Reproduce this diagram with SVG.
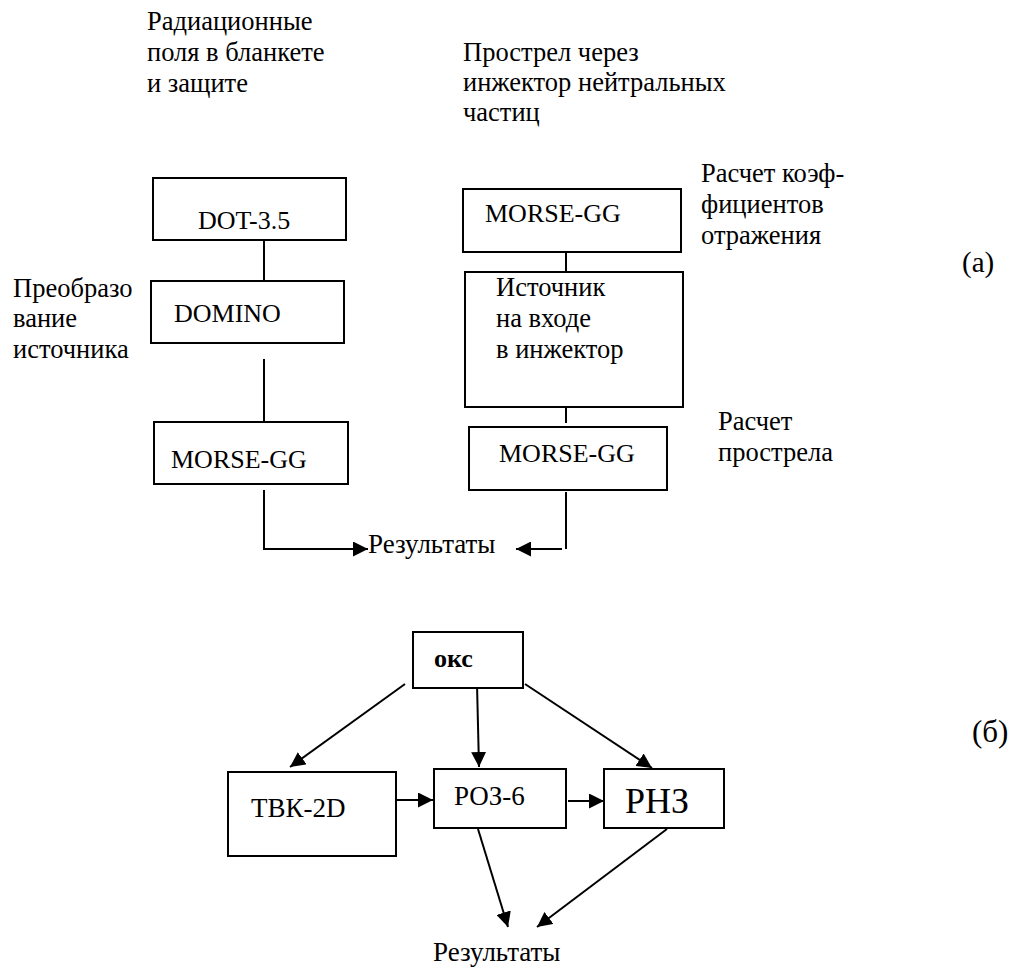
<svg xmlns="http://www.w3.org/2000/svg" width="1019" height="967" viewBox="0 0 1019 967">
<defs>
<style>
rect{fill:#fff;stroke:#000;stroke-width:2}
.c{stroke:#000;stroke-width:2;fill:none}
</style>
<marker id="ah" viewBox="0 0 15 15" refX="15" refY="7.5" markerWidth="15" markerHeight="15" markerUnits="userSpaceOnUse" orient="auto">
<path d="M0,0 L15,7.5 L0,15 z" fill="#000"/>
</marker>
</defs>
<rect x="0" y="0" width="1019" height="967" style="stroke:none;fill:#fff"/>
<g id="labels">
<text style="font-family:'Liberation Serif',serif;font-size:26.5px" x="147" y="30">Радиационные</text>
<text style="font-family:'Liberation Serif',serif;font-size:26.5px" x="147" y="61">поля в бланкете</text>
<text style="font-family:'Liberation Serif',serif;font-size:26.5px" x="147" y="92">и защите</text>
<text style="font-family:'Liberation Serif',serif;font-size:26.5px" x="463" y="61">Прострел через</text>
<text style="font-family:'Liberation Serif',serif;font-size:26.5px" x="463" y="91">инжектор нейтральных</text>
<text style="font-family:'Liberation Serif',serif;font-size:26.5px" x="463" y="121">частиц</text>
<text style="font-family:'Liberation Serif',serif;font-size:26.5px" x="701" y="182">Расчет коэф-</text>
<text style="font-family:'Liberation Serif',serif;font-size:26.5px" x="701" y="213">фициентов</text>
<text style="font-family:'Liberation Serif',serif;font-size:26.5px" x="701" y="244">отражения</text>
<text style="font-family:'Liberation Serif',serif;font-size:26.5px" x="13" y="297">Преобразо</text>
<text style="font-family:'Liberation Serif',serif;font-size:26.5px" x="13" y="327">вание</text>
<text style="font-family:'Liberation Serif',serif;font-size:26.5px" x="13" y="358">источника</text>
<text style="font-family:'Liberation Serif',serif;font-size:26.5px" x="718" y="430">Расчет</text>
<text style="font-family:'Liberation Serif',serif;font-size:26.5px" x="718" y="461">прострела</text>
<text style="font-family:'Liberation Serif',serif;font-size:27px" x="368" y="553">Результаты</text>
<text style="font-family:'Liberation Serif',serif;font-size:27px" x="433" y="961">Результаты</text>
<text style="font-family:'Liberation Serif',serif;font-size:29px" x="962" y="272">(a)</text>
<text style="font-family:'Liberation Serif',serif;font-size:31px" x="972" y="742">(б)</text>
</g>
<g id="connectors">
<line class="c" x1="264" y1="240" x2="264" y2="286"/>
<line class="c" x1="264" y1="359" x2="264" y2="422"/>
<polyline class="c" points="264,490 264,549 368,549" marker-end="url(#ah)"/>
<line class="c" x1="566" y1="252" x2="566" y2="272"/>
<line class="c" x1="566" y1="403" x2="566" y2="423"/>
<line class="c" x1="566" y1="492" x2="566" y2="549"/>
<line class="c" x1="562" y1="549" x2="516" y2="549" marker-end="url(#ah)"/>
<line class="c" x1="405" y1="684" x2="290" y2="767" marker-end="url(#ah)"/>
<line class="c" x1="477" y1="684" x2="479" y2="767" marker-end="url(#ah)"/>
<line class="c" x1="525" y1="684" x2="652" y2="768" marker-end="url(#ah)"/>
<line class="c" x1="397" y1="800" x2="433" y2="800" marker-end="url(#ah)"/>
<line class="c" x1="568" y1="801" x2="604" y2="801" marker-end="url(#ah)"/>
<line class="c" x1="478" y1="829" x2="508" y2="927" marker-end="url(#ah)"/>
<line class="c" x1="667" y1="829" x2="537" y2="927" marker-end="url(#ah)"/>
</g>
<g id="dot35"><rect x="153" y="178" width="193" height="62"/><text style="font-family:'Liberation Serif',serif;font-size:26px" x="198" y="229">DOT-3.5</text></g>
<g id="domino"><rect x="151" y="281" width="193" height="62"/><text style="font-family:'Liberation Serif',serif;font-size:26px" x="174" y="322">DOMINO</text></g>
<g id="morse1"><rect x="154" y="422" width="194" height="62"/><text style="font-family:'Liberation Serif',serif;font-size:26px" x="171" y="468">MORSE-GG</text></g>
<g id="morse2"><rect x="463" y="189" width="218" height="63"/><text style="font-family:'Liberation Serif',serif;font-size:26px" x="485" y="222">MORSE-GG</text></g>
<g id="injector"><rect x="465" y="272" width="218" height="135"/>
<text style="font-family:'Liberation Serif',serif;font-size:26.5px" x="496" y="296">Источник</text>
<text style="font-family:'Liberation Serif',serif;font-size:26.5px" x="496" y="327">на входе</text>
<text style="font-family:'Liberation Serif',serif;font-size:26.5px" x="496" y="358">в инжектор</text></g>
<g id="morse3"><rect x="469" y="427" width="198" height="63"/><text style="font-family:'Liberation Serif',serif;font-size:26px" x="499" y="462">MORSE-GG</text></g>
<g id="oks"><rect x="413" y="632" width="110" height="56"/><text style="font-family:'Liberation Serif',serif;font-size:26px;font-weight:bold" x="434" y="667">окс</text></g>
<g id="tvk"><rect x="228" y="772" width="168" height="84"/><text style="font-family:'Liberation Serif',serif;font-size:27px" x="251" y="817">ТВК-2D</text></g>
<g id="roz"><rect x="434" y="769" width="132" height="59"/><text style="font-family:'Liberation Serif',serif;font-size:27px" x="454" y="805">РОЗ-6</text></g>
<g id="rnz"><rect x="604" y="769" width="120" height="59"/><text style="font-family:'Liberation Serif',serif;font-size:36px" x="625" y="813">РНЗ</text></g>
</svg>
